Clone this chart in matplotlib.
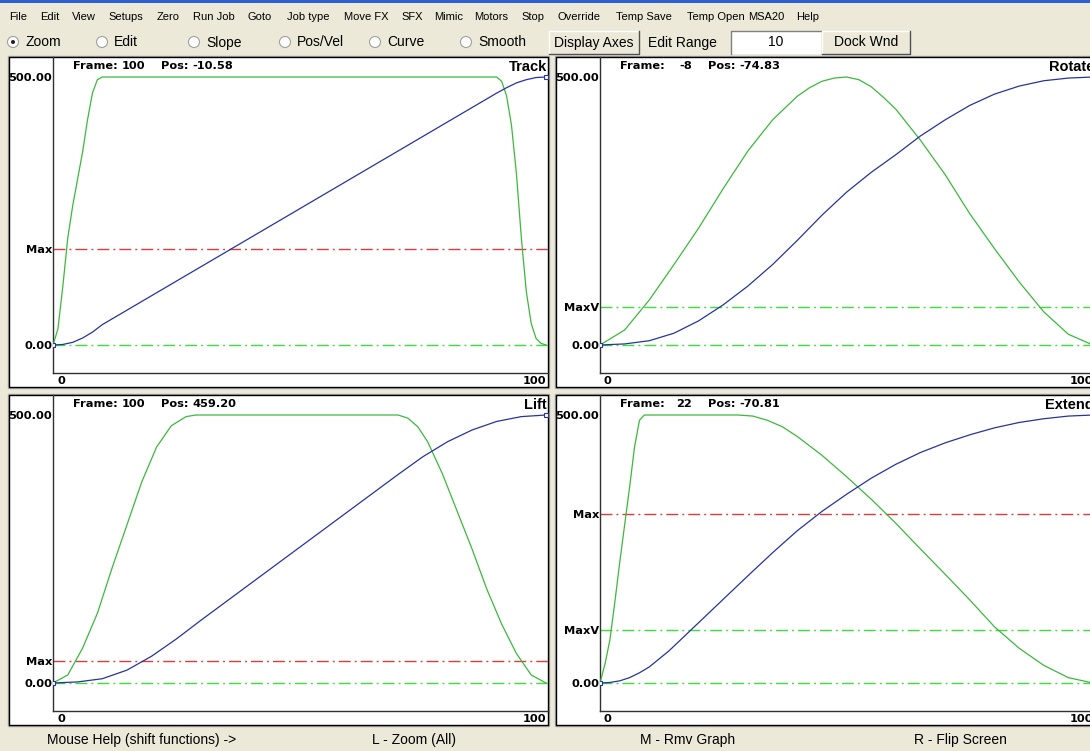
import matplotlib
matplotlib.use('Agg')
import matplotlib.pyplot as plt
from matplotlib.patches import Rectangle, Circle

W, H = 1090, 751
BG = '#ECE9D8'
CURVE_GREEN = '#3CB83C'
CURVE_BLUE = '#27349A'
DASH_GREEN = '#3CE03C'
DASH_RED = '#DC3C3C'
NUM_FONT = dict(family='DejaVu Sans', weight='bold', size=8.2)

# ---------------- values ----------------
track_vel_f = [0, 1, 2, 3, 4, 5, 6, 7, 8, 9, 10, 90, 91, 92, 93, 94, 95, 96, 97, 98, 99, 100]
track_vel = [0, 30, 110, 200, 260, 310, 360, 420, 470, 495, 500, 500, 492, 465, 410, 320, 200, 100, 40, 12, 3, 0]
track_pos_f = [0, 2, 4, 6, 8, 10, 20, 30, 40, 50, 60, 70, 80, 90, 92, 94, 96, 98, 100]
track_pos = [0, 1, 5, 13, 24, 38, 92, 146, 200, 254, 308, 362, 416, 470, 480, 489, 495, 499, 500]

rotate_vel_f = [0, 5, 10, 15, 20, 25, 30, 35, 40, 42.5, 45, 47.5, 50, 52.5, 55, 57.5, 60, 65, 70, 75,
                80, 85, 90, 95, 100]
rotate_vel = [0, 28, 84, 150, 218, 292, 362, 420, 464, 480, 492, 498, 500, 495, 482, 462, 440, 382, 318,
              245, 180, 118, 62, 20, 0]
rotate_pos_f = [0, 5, 10, 15, 20, 25, 30, 35, 40, 45, 50, 55, 60, 65, 70, 75, 80, 85, 90, 95, 100]
rotate_pos = [0, 2, 8, 22, 45, 75, 110, 150, 195, 242, 285, 322, 355, 390, 420, 447, 468, 483, 493, 498, 500]

lift_vel_f = [0, 3, 6, 9, 12, 15, 18, 21, 24, 27, 29, 70, 72, 74, 76, 79, 82, 85, 88, 91, 94, 97, 100]
lift_vel = [0, 15, 65, 130, 215, 295, 375, 440, 480, 497, 500, 500, 494, 478, 450, 390, 320, 250, 175, 110,
            55, 15, 0]
lift_pos_f = [0, 5, 10, 15, 20, 25, 30, 40, 50, 60, 70, 75, 80, 85, 90, 95, 100]
lift_pos = [0, 2, 8, 24, 50, 82, 117, 185, 253, 321, 389, 422, 450, 472, 488, 497, 500]

extend_vel_f = [0, 1, 2, 3, 4, 5, 6, 7, 8, 9, 28, 31, 34, 37, 40, 45, 50, 55, 60, 65, 70, 75, 80, 85, 90,
                95, 100]
extend_vel = [0, 35, 80, 150, 225, 295, 365, 440, 490, 500, 500, 498, 490, 478, 460, 425, 385, 343, 298,
              250, 203, 155, 105, 65, 33, 10, 0]
extend_pos_f = [0, 2, 4, 6, 8, 10, 14, 18, 22, 26, 30, 35, 40, 45, 50, 55, 60, 65, 70, 75, 80, 85, 90,
                95, 100]
extend_pos = [0, 1, 4, 10, 19, 30, 60, 95, 130, 165, 200, 243, 284, 320, 352, 382, 408, 430, 448, 463,
              476, 486, 493, 498, 500]

# label, value, dash colour (None = no line)
track_marks = [('0.00', 0, DASH_GREEN), ('Max', 179, DASH_RED), ('500.00', 500, None)]
rotate_marks = [('0.00', 0, DASH_GREEN), ('MaxV', 71, DASH_GREEN), ('500.00', 500, None)]
lift_marks = [('0.00', 0, DASH_GREEN), ('Max', 41, DASH_RED), ('500.00', 500, None)]
extend_marks = [('0.00', 0, DASH_GREEN), ('MaxV', 98, DASH_GREEN), ('Max', 315, DASH_RED), ('500.00', 500, None)]

panels = [
    # title, frame, pos, x0, y0, vel, pos, marks
    ('Track', '100', '-10.58', 9, 57, (track_vel_f, track_vel), (track_pos_f, track_pos), track_marks),
    ('Rotate', '-8', '-74.83', 556, 57, (rotate_vel_f, rotate_vel), (rotate_pos_f, rotate_pos), rotate_marks),
    ('Lift', '100', '459.20', 9, 395, (lift_vel_f, lift_vel), (lift_pos_f, lift_pos), lift_marks),
    ('Extend', '22', '-70.81', 556, 395, (extend_vel_f, extend_vel), (extend_pos_f, extend_pos), extend_marks),
]

menu_items = [('File', 9), ('Edit', 40), ('View', 72), ('Setups', 108), ('Zero', 157), ('Run Job', 193),
              ('Goto', 248), ('Job type', 287), ('Move FX', 344), ('SFX', 401), ('Mimic', 434),
              ('Motors', 474), ('Stop', 521), ('Override', 558), ('Temp Save', 616), ('Temp Open', 687),
              ('MSA20', 748), ('Help', 796)]
radios = [('Zoom', 13, True), ('Edit', 102, False), ('Slope', 194, False), ('Pos/Vel', 285, False),
          ('Curve', 375, False), ('Smooth', 466, False)]
status = [('Mouse Help (shift functions) ->', 47, 'left'), ('L - Zoom (All)', 414, 'center'),
          ('M - Rmv Graph', 688, 'center'), ('R - Flip Screen', 960, 'center')]

plt.rcParams['lines.scale_dashes'] = False
fig = plt.figure(figsize=(W / 100, H / 100), dpi=100, facecolor=BG)

# window chrome drawn in pixel coordinates
ui = fig.add_axes([0, 0, 1, 1])
ui.set_xlim(0, W)
ui.set_ylim(H, 0)
ui.axis('off')
ui.add_patch(Rectangle((0, 0), W, 3, fc='#2D5FD0', ec='none'))

for txt, x in menu_items:
    ui.text(x, 17, txt, family='Liberation Sans', size=8, va='center', ha='left')

for txt, x, sel in radios:
    ui.add_patch(Circle((x, 42), 5.5, fc='white', ec='#A0A0A0', lw=0.8))
    if sel:
        ui.add_patch(Circle((x, 42), 2, fc='#202020', ec='none'))
    ui.text(x + 12, 42.5, txt, family='Liberation Sans', size=10, va='center', ha='left')


def button(x0, x1, label):
    ui.add_patch(Rectangle((x0, 31), x1 - x0, 23, fc=BG, ec='none'))
    ui.plot([x0, x0, x1], [54, 31, 31], color='white', lw=1)
    ui.plot([x0, x1, x1], [54, 54, 31], color='#505050', lw=1)
    ui.text((x0 + x1) / 2, 42.5, label, family='Liberation Sans', size=10, va='center', ha='center')


button(549, 639, 'Display Axes')
ui.text(648, 42.5, 'Edit Range', family='Liberation Sans', size=10, va='center', ha='left')
ui.add_patch(Rectangle((731, 31), 90, 23, fc='white', ec='none'))
ui.plot([731, 731, 821], [54, 31, 31], color='#808080', lw=1)
ui.text(776, 42.5, '10', family='Liberation Sans', size=10, va='center', ha='center')
button(822, 910, 'Dock Wnd')

for txt, x, ha in status:
    ui.text(x, 740, txt, family='Liberation Sans', size=10, va='center', ha=ha)

PW, PH = 539, 330
for title, frame, pos, x0, y0, vel, posn, marks in panels:
    ui.add_patch(Rectangle((x0 - 1, y0 - 1), PW + 2, PH + 2, fc='none', ec='#A8A8A8', lw=1))
    ui.add_patch(Rectangle((x0, y0), PW, PH, fc='white', ec='black', lw=1))

    # plot area: x 0..100 over 493 px, y 0..500 over 268 px
    ax = fig.add_axes([(x0 + 44) / W, 1 - (y0 + 316) / H, 495 / W, 316 / H])
    ax.set_facecolor('none')
    ax.set_xlim(0, 100 * 495 / 493)
    ax.set_ylim(-28 / 268 * 500, 500 + 20 / 268 * 500)
    for s in ('top', 'right'):
        ax.spines[s].set_visible(False)
    for s in ('left', 'bottom'):
        ax.spines[s].set_color('#303030')
        ax.spines[s].set_linewidth(1)

    for lab, val, col in marks:
        if col:
            ax.axhline(val, color=col, lw=1, dashes=(8.6, 2.9, 1.4, 2.9), zorder=1)
    ax.set_yticks([m[1] for m in marks], [m[0] for m in marks], **NUM_FONT)
    ax.tick_params(axis='y', length=0, pad=0.6)
    ax.set_xticks([])
    ax.annotate('0', (0, 0), xycoords='axes fraction', xytext=(4, -8), textcoords='offset pixels',
                ha='left', va='center', **NUM_FONT)
    ax.annotate('100', (100, 0), xycoords=('data', 'axes fraction'), xytext=(0, -8),
                textcoords='offset pixels', ha='right', va='center', **NUM_FONT)

    ax.plot(vel[0], vel[1], color=CURVE_GREEN, lw=0.9, zorder=3)
    ax.plot(posn[0], posn[1], color=CURVE_BLUE, lw=0.9, zorder=4,
            marker='s', markevery=[0, len(posn[0]) - 1], ms=3.5, mfc='white', mec=CURVE_BLUE, mew=0.8)

    ui.text(x0 + 64, y0 + 9, 'Frame:', va='center', ha='left', **NUM_FONT)
    ui.text(x0 + 136, y0 + 9, frame, va='center', ha='right', **NUM_FONT)
    ui.text(x0 + 152, y0 + 9, 'Pos:', va='center', ha='left', **NUM_FONT)
    ui.text(x0 + 183, y0 + 9, pos, va='center', ha='left', **NUM_FONT)
    ui.text(x0 + PW - 1, y0 + 10, title, family='Liberation Sans', weight='bold', size=10.5,
            va='center', ha='right', zorder=5)

fig.savefig('out.png', dpi=100, facecolor=BG)
